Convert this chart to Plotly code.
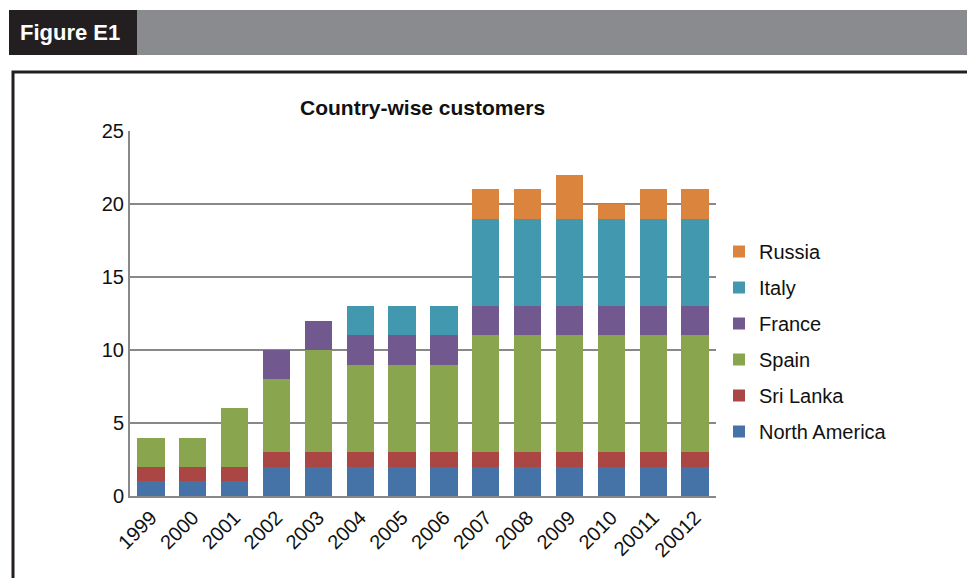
import plotly.graph_objects as go

years = ["1999", "2000", "2001", "2002", "2003", "2004", "2005", "2006",
         "2007", "2008", "2009", "2010", "20011", "20012"]
north_america = [1, 1, 1, 2, 2, 2, 2, 2, 2, 2, 2, 2, 2, 2]
sri_lanka = [1, 1, 1, 1, 1, 1, 1, 1, 1, 1, 1, 1, 1, 1]
spain = [2, 2, 4, 5, 7, 6, 6, 6, 8, 8, 8, 8, 8, 8]
france = [0, 0, 0, 2, 2, 2, 2, 2, 2, 2, 2, 2, 2, 2]
italy = [0, 0, 0, 0, 0, 2, 2, 2, 6, 6, 6, 6, 6, 6]
russia = [0, 0, 0, 0, 0, 0, 0, 0, 2, 2, 3, 1, 2, 2]

series = [
    ("North America", north_america, "#4572A7"),
    ("Sri Lanka", sri_lanka, "#AA4643"),
    ("Spain", spain, "#89A54E"),
    ("France", france, "#71588F"),
    ("Italy", italy, "#4198AF"),
    ("Russia", russia, "#DB843D"),
]

W, H = 975, 578
OFF = 8  # page body margin offset
px = lambda x: (x - OFF) / W
py = lambda y: 1 - (y - OFF) / H

fig = go.Figure()
n = len(series)
for i, (name, vals, col) in enumerate(series):
    fig.add_trace(go.Bar(x=years, y=vals, name=name, marker_color=col,
                         marker_line_width=0, legendgroup=name, legendrank=n - i))

FONT = "Liberation Sans, Arial, sans-serif"
fig.update_layout(
    width=W, height=H,
    margin=dict(l=0, r=0, t=0, b=0, autoexpand=False),
    paper_bgcolor="white", plot_bgcolor="white",
    barmode="stack", bargap=0.35,
    font=dict(family=FONT, size=20, color="#111"),
    showlegend=True,
    legend=dict(traceorder="grouped", x=px(719), y=py(232), xanchor="left", yanchor="top",
                font=dict(size=20, family=FONT, color="#111"), tracegroupgap=7,
                bgcolor="rgba(0,0,0,0)", itemwidth=30),
    xaxis=dict(domain=[px(130), px(716)], showline=True, linecolor="#888", linewidth=2,
               tickangle=-45, ticks="", showgrid=False, tickfont=dict(size=20),
               automargin=False),
    yaxis=dict(domain=[py(496), py(131)], range=[0, 25], dtick=5, showline=True,
               linecolor="#888", linewidth=2, gridcolor="#888", gridwidth=2,
               ticks="", tickfont=dict(size=20), zeroline=False, automargin=False),
    shapes=[
        dict(type="rect", xref="paper", yref="paper", x0=px(9), x1=px(990), y0=py(55), y1=py(10),
             fillcolor="#8a8b8e", line_width=0, layer="below"),
        dict(type="rect", xref="paper", yref="paper", x0=px(9), x1=px(137), y0=py(55), y1=py(10),
             fillcolor="#231f20", line_width=0, layer="below"),
        dict(type="rect", xref="paper", yref="paper", x0=px(13), x1=px(971), y0=py(600), y1=py(72),
             fillcolor="rgba(0,0,0,0)", line=dict(color="#231f20", width=3), layer="below"),
    ],
    annotations=[
        dict(text="<b>Figure E1</b>", xref="paper", yref="paper", x=px(18), y=py(33),
             xanchor="left", yanchor="middle", showarrow=False,
             font=dict(size=22, color="white", family=FONT)),
        dict(text="<b>Country-wise customers</b>", xref="paper", yref="paper", x=px(422), y=py(108),
             xanchor="center", yanchor="middle", showarrow=False,
             font=dict(size=21, color="#111", family=FONT)),
    ],
)

fig.write_html("out.html")
